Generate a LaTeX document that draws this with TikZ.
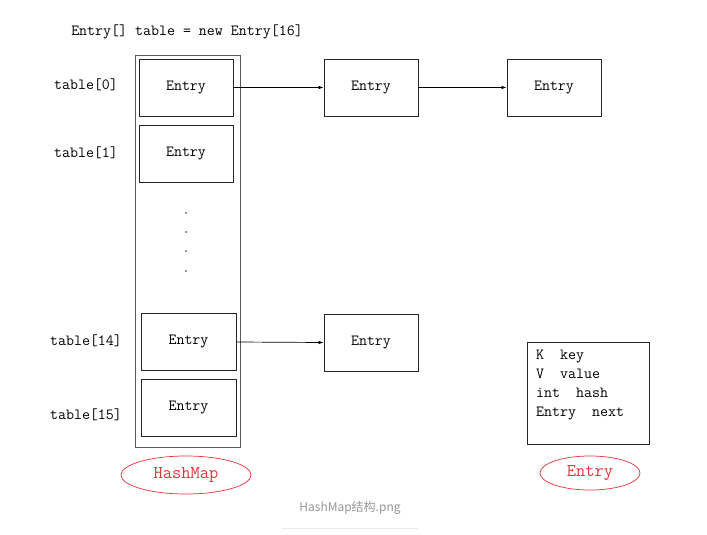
\documentclass[tikz,border=0pt]{standalone}
\usepackage{fontspec}
\newfontfamily\cjk{Noto Sans CJK SC}
\usetikzlibrary{arrows.meta,shapes.geometric}
\definecolor{boxgray}{RGB}{90,90,90}
\definecolor{ellred}{RGB}{230,50,60}
\definecolor{capgray}{RGB}{150,150,150}
\definecolor{rulegray}{RGB}{235,235,235}
\tikzset{
  mono/.style={font=\ttfamily\fontsize{15.5}{18}\selectfont, text=black, inner sep=0pt},
  entrybox/.style={draw=black!85, line width=0.9pt, minimum width=94pt, minimum height=57pt, mono},
  outerbox/.style={draw=boxgray, line width=1.4pt, minimum width=105pt, minimum height=392pt, inner sep=0pt},
  redell/.style={ellipse, draw=ellred, line width=0.7pt, text=ellred, font=\ttfamily\fontsize{18}{20}\selectfont, inner sep=0pt},
  link/.style={draw=black, line width=0.7pt, -{Latex[length=5pt,width=3.5pt]}},
  dotnode/.style={circle, fill=black!80, inner sep=0pt, minimum size=1.7pt},
}
\begin{document}
\begin{tikzpicture}[x=1pt,y=-1pt]
\useasboundingbox (0,0) rectangle (707,535);
\fill[white] (0,0) rectangle (707,535);

\node[mono] (title) at (187,32) {Entry[] table = new Entry[16]};

\node[outerbox] (hashbox) at (188,251.5) {};

\node[entrybox] (e0) at (186,87.5) {Entry};
\node[entrybox] (e1) at (186,153.5) {Entry};
\node[entrybox, minimum width=95pt] (e14) at (188.5,342) {Entry};
\node[entrybox, minimum width=95pt] (e15) at (188.5,408) {Entry};

\node[dotnode] (d1) at (186,213) {};
\node[dotnode] (d2) at (186,232) {};
\node[dotnode] (d3) at (186,251) {};
\node[dotnode] (d4) at (186,271) {};

\node[mono] (l0) at (86,85) {table[0]};
\node[mono] (l1) at (86,153) {table[1]};
\node[mono] (l14) at (86,341) {table[14]};
\node[mono] (l15) at (86,415) {table[15]};

\node[entrybox] (r1) at (371,87.5) {Entry};
\node[entrybox] (r2) at (554,87.5) {Entry};
\node[entrybox] (r3) at (371,342.5) {Entry};

\draw[link] (e0.east) -- (r1.west);
\draw[link] (r1.east) -- (r2.west);
\draw[link] (e14.east) -- (r3.west);

\node[draw=black!85, line width=0.9pt, minimum width=122pt, minimum height=102pt, inner sep=0pt] (struct) at (588,393) {};
\node[mono, anchor=base west] (f1) at (536,359) {K\ \ key};
\node[mono, anchor=base west] (f2) at (536,378) {V\ \ value};
\node[mono, anchor=base west] (f3) at (536,397) {int\ \ hash};
\node[mono, anchor=base west] (f4) at (536,416) {Entry\ \ next};

\node[redell, minimum width=130pt, minimum height=38pt] (hm) at (186,475) {HashMap};
\node[redell, minimum width=100pt, minimum height=34pt] (en) at (590,473) {Entry};

\node[font=\cjk\fontsize{12}{14}\selectfont, text=capgray, inner sep=0pt] (cap) at (350,508) {HashMap结构.png};
\coordinate (ruleA) at (282,528);
\coordinate (ruleB) at (418,528);
\draw[rulegray, line width=0.8pt] (ruleA) -- (ruleB);
\end{tikzpicture}
\end{document}
